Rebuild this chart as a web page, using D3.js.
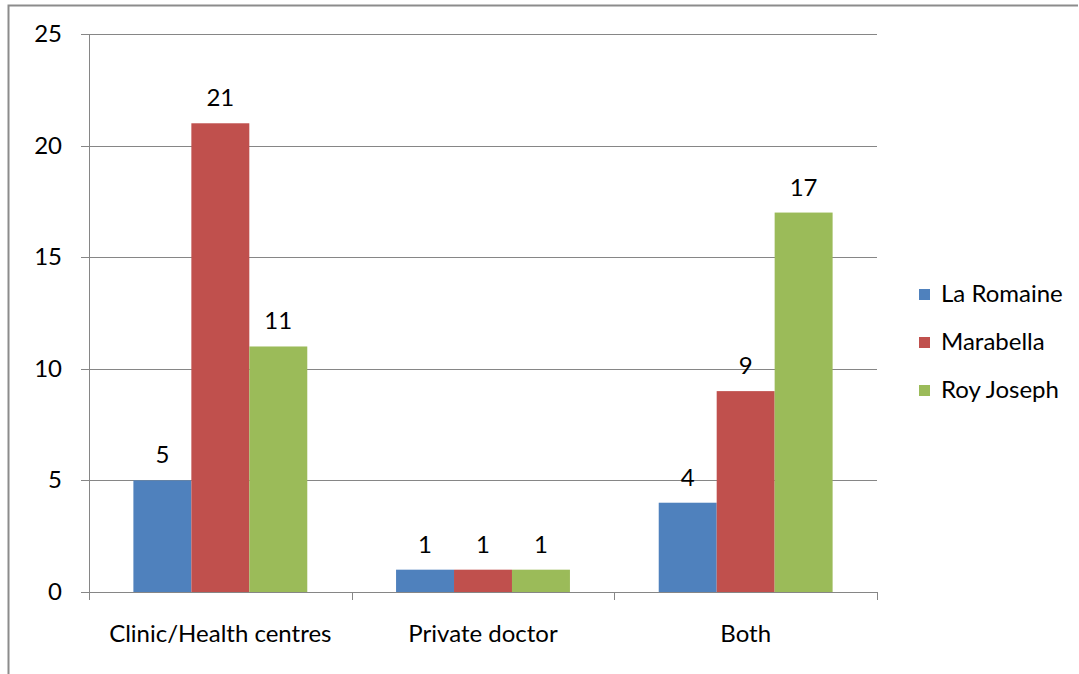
<!DOCTYPE html>
<html>
<head>
<meta charset="utf-8">
<script src="https://cdn.jsdelivr.net/npm/d3@7"></script>
<style>
  html, body { margin: 0; padding: 0; background: #fff; }
  svg { display: block; }
  text { font-family: Lato, "Open Sans", sans-serif; fill: #000; }
</style>
</head>
<body>
<svg id="chart" width="1079" height="674"></svg>
<script>
// Place of care, by community
const categories = ["Clinic/Health centres", "Private doctor", "Both"];
const seriesNames = ["La Romaine", "Marabella", "Roy Joseph"];
const laRomaine = [5, 1, 4];
const marabella = [21, 1, 9];
const royJoseph = [11, 1, 17];
const yTicks = [0, 5, 10, 15, 20, 25];
const colors = ["#4F81BD", "#C0504D", "#9BBB59"];

const seriesValues = [laRomaine, marabella, royJoseph];
const FS = 24;

const svg = d3.select("#chart");
const W = 1079, H = 674;

// outer chart frame (left and top edges)
svg.append("path")
  .attr("d", `M8.5,${H} V5.5 H${W - 1}`)
  .attr("fill", "none")
  .attr("stroke", "#8c8c8c")
  .attr("stroke-width", 2);

const plot = { left: 89, right: 877, top: 34, bottom: 592 };

const x0 = d3.scaleBand()
  .domain(categories)
  .range([plot.left, plot.right])
  .paddingInner(0)
  .paddingOuter(0);

const x1 = d3.scaleBand()
  .domain(seriesNames)
  .range([0, x0.bandwidth() * 0.662])
  .padding(0);

const y = d3.scaleLinear()
  .domain([0, 25])
  .range([plot.bottom, plot.top]);

// horizontal gridlines
svg.append("g")
  .selectAll("line")
  .data(yTicks)
  .join("line")
  .attr("x1", plot.left - 8)
  .attr("x2", plot.right)
  .attr("y1", d => Math.round(y(d)) + 0.5)
  .attr("y2", d => Math.round(y(d)) + 0.5)
  .attr("stroke", "#868686")
  .attr("stroke-width", 1);

// bars
const groupOffset = (x0.bandwidth() - x1.range()[1]) / 2;
const groups = svg.append("g")
  .selectAll("g")
  .data(categories)
  .join("g")
  .attr("transform", d => `translate(${x0(d) + groupOffset},0)`);

groups.selectAll("rect")
  .data((d, i) => seriesNames.map((s, j) => ({ s, v: seriesValues[j][i], j })))
  .join("rect")
  .attr("x", d => x1(d.s))
  .attr("width", x1.bandwidth())
  .attr("y", d => y(d.v))
  .attr("height", d => y(0) - y(d.v))
  .attr("fill", d => colors[d.j]);

// value labels
groups.selectAll("text.val")
  .data((d, i) => seriesNames.map((s, j) => ({ s, v: seriesValues[j][i] })))
  .join("text")
  .attr("class", "val")
  .attr("x", d => x1(d.s) + x1.bandwidth() / 2)
  .attr("y", d => y(d.v) - 17)
  .attr("text-anchor", "middle")
  .attr("font-size", FS)
  .text(d => d.v);

// y axis line
svg.append("line")
  .attr("x1", plot.left + 0.5).attr("x2", plot.left + 0.5)
  .attr("y1", plot.top).attr("y2", plot.bottom + 8)
  .attr("stroke", "#868686");

// y tick labels
svg.append("g")
  .selectAll("text")
  .data(yTicks)
  .join("text")
  .attr("x", 62)
  .attr("y", d => y(d) + 8)
  .attr("text-anchor", "end")
  .attr("font-size", FS)
  .text(d => d);

// x axis line and category ticks
svg.append("line")
  .attr("x1", plot.left).attr("x2", plot.right)
  .attr("y1", plot.bottom + 0.5).attr("y2", plot.bottom + 0.5)
  .attr("stroke", "#868686");

const boundaries = categories.map(c => x0(c)).concat([plot.right]);
svg.append("g")
  .selectAll("line")
  .data(boundaries)
  .join("line")
  .attr("x1", d => Math.round(d) + 0.5)
  .attr("x2", d => Math.round(d) + 0.5)
  .attr("y1", plot.bottom)
  .attr("y2", plot.bottom + 8)
  .attr("stroke", "#868686");

// category labels
svg.append("g")
  .selectAll("text")
  .data(categories)
  .join("text")
  .attr("x", d => x0(d) + x0.bandwidth() / 2)
  .attr("y", 642)
  .attr("text-anchor", "middle")
  .attr("font-size", FS)
  .text(d => d);

// legend
const legend = svg.append("g")
  .selectAll("g")
  .data(seriesNames)
  .join("g")
  .attr("transform", (d, i) => `translate(919,${289 + i * 48})`);

legend.append("rect")
  .attr("width", 11).attr("height", 11)
  .attr("fill", (d, i) => colors[i]);

legend.append("text")
  .attr("x", 22)
  .attr("y", 13)
  .attr("font-size", FS)
  .text(d => d);
</script>
</body>
</html>
